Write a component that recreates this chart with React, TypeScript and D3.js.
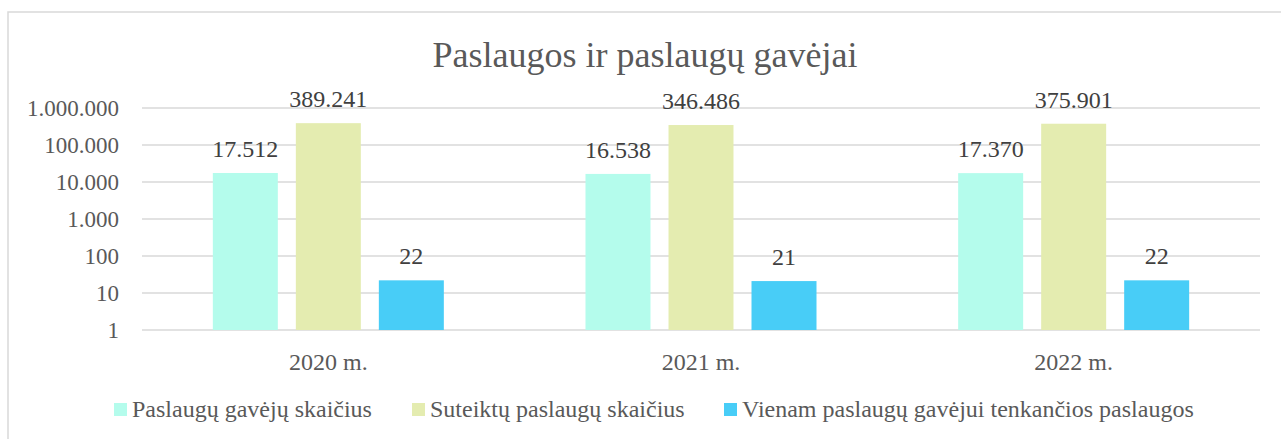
import React from "react";
import * as d3 from "d3";

const categories = ["2020 m.", "2021 m.", "2022 m."];
const seriesNames = [
  "Paslaugų gavėjų skaičius",
  "Suteiktų paslaugų skaičius",
  "Vienam paslaugų gavėjui tenkančios paslaugos",
];
const recipients = [17512, 16538, 17370];
const services = [389241, 346486, 375901];
const perRecipient = [22, 21, 22];
const yTicks = [1, 10, 100, 1000, 10000, 100000, 1000000];
const title = "Paslaugos ir paslaugų gavėjai";

const colors = ["#b4fcec", "#e4ecb0", "#48cdf7"];
const seriesValues = [recipients, services, perRecipient];

const W = 1281;
const H = 439;
const plotLeft = 142;
const plotRight = 1260;
const plotTop = 108;
const plotBottom = 330;

const fmt = d3.formatLocale({
  decimal: ",",
  thousands: ".",
  grouping: [3],
  currency: ["", ""],
}).format(",d");

const FONT = "'Liberation Serif', 'Times New Roman', serif";
const legendX = [114, 412, 724];

export default function App() {
  const y = d3.scaleLog().domain([1, 1e6]).range([plotBottom, plotTop]);
  const x0 = d3.scalePoint<string>().domain(categories).range([plotLeft, plotRight]).padding(0.5);
  const x1 = d3
    .scaleBand<number>()
    .domain([0, 1, 2])
    .range([-115.5, 115.5])
    .paddingInner(0.217)
    .paddingOuter(0);

  return (
    <svg
      width={W}
      height={H}
      style={{ position: "absolute", left: 0, top: 0, background: "#fff" }}
      fontFamily={FONT}
    >
      <rect x={0} y={0} width={W} height={H} fill="#fff" />
      <rect x={8} y={12} width={W + 20} height={H + 20} fill="none" stroke="#d9d9d9" strokeWidth={1.5} />
      <text x={645} y={67} textAnchor="middle" fontSize={36} fill="#595959">
        {title}
      </text>
      {yTicks.map((t) => (
        <g key={t}>
          <line x1={plotLeft} x2={plotRight} y1={y(t)} y2={y(t)} stroke="#d9d9d9" strokeWidth={1.5} />
          <text x={119} y={y(t)} dy="0.35em" textAnchor="end" fontSize={23} fill="#595959">
            {fmt(t)}
          </text>
        </g>
      ))}
      {categories.map((c, ci) => (
        <g key={c}>
          {seriesValues.map((vals, si) => {
            const bx = (x0(c) as number) + (x1(si) as number);
            const top = y(vals[ci]);
            return (
              <g key={si}>
                <rect x={bx} y={top} width={x1.bandwidth()} height={plotBottom - top} fill={colors[si]} />
                <text
                  x={bx + x1.bandwidth() / 2}
                  y={top - 16}
                  textAnchor="middle"
                  fontSize={24}
                  fill="#404040"
                >
                  {fmt(vals[ci])}
                </text>
              </g>
            );
          })}
          <text x={x0(c) as number} y={370} textAnchor="middle" fontSize={24} fill="#595959">
            {c}
          </text>
        </g>
      ))}
      {seriesNames.map((n, i) => (
        <g key={n}>
          <rect x={legendX[i]} y={403} width={13} height={13} fill={colors[i]} />
          <text x={legendX[i] + 18} y={417} fontSize={24} fill="#595959">
            {n}
          </text>
        </g>
      ))}
    </svg>
  );
}
